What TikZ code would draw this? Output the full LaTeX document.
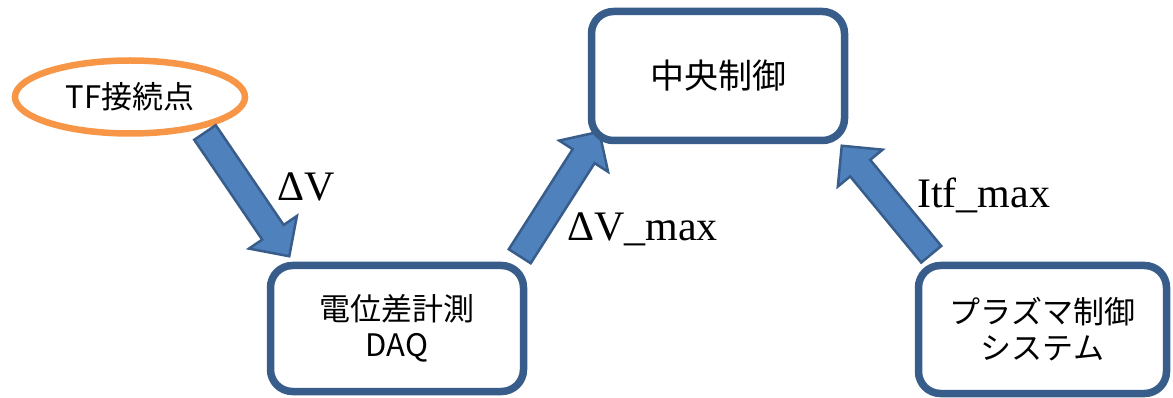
\documentclass[tikz,border=0pt]{standalone}
\usepackage{fontspec}
\setmainfont{Liberation Serif}
\newfontfamily\jp{Noto Sans CJK JP}
\usetikzlibrary{shapes.geometric,calc,backgrounds}
\definecolor{boxblue}{HTML}{385D8A}
\definecolor{arrfill}{HTML}{4F81BD}
\definecolor{orng}{HTML}{F79646}
\newcommand\blockarrow[3]{%
  \coordinate (#1b) at ($(#3)!29pt!(#2)$);
  \draw[barrow] ($(#2)!13pt!90:(#3)$) -- ($(#1b)!13pt!90:(#3)$)
    -- ($(#1b)!29pt!90:(#3)$) -- (#3) -- ($(#1b)!29pt!-90:(#3)$)
    -- ($(#1b)!13pt!-90:(#3)$) -- ($(#2)!13pt!-90:(#3)$) -- cycle;}
\begin{document}
\begin{tikzpicture}[x=1pt,y=-1pt,
  box/.style={draw=boxblue, line width=7.5pt, rounded corners=22pt, fill=white,
    inner sep=0pt, align=center, font=\jp\fontsize{31}{36}\selectfont},
  oval/.style={ellipse, draw=orng, line width=6.5pt, fill=white, inner sep=0pt,
    font=\jp\fontsize{31}{36}\selectfont},
  barrow/.style={draw=boxblue, fill=arrfill, line width=2.5pt, line join=miter},
  lbl/.style={font=\fontsize{42}{50}\selectfont, inner sep=0pt, anchor=base west}]
\useasboundingbox (0,0) rectangle (1173,398);
\node[box, minimum width=253pt, minimum height=126pt] (daq) at (397,328.5) {電位差計測\\DAQ};
\node[box, minimum width=253pt, minimum height=129pt, font=\jp\fontsize{34}{40}\selectfont] (ctrl) at (718,76) {中央制御};
\node[box, minimum width=248pt, minimum height=128pt] (plasma) at (1042.5,329.5) {プラズマ制御\\システム};
\begin{pgfonlayer}{background}
\node[oval, minimum width=230pt, minimum height=73pt] (tf) at (130,97) {TF接続点};
\coordinate (t1) at ($(tf.center)+(75,35.5)$);
\coordinate (h1) at ($(daq.north west)+(22.5,-5.5)$);
\coordinate (t2) at ($(daq.north east)+(-7.5,-5.5)$);
\coordinate (h2) at ($(ctrl.south west)+(11.5,-12.5)$);
\coordinate (t3) at ($(plasma.north west)+(16.5,-7.5)$);
\coordinate (h3) at ($(ctrl.south east)+(-6.5,1.5)$);
\blockarrow{a1}{t1}{h1}
\blockarrow{a2}{t2}{h2}
\blockarrow{a3}{t3}{h3}
\end{pgfonlayer}
\node[lbl] (l1) at (277,201) {ΔV};
\node[lbl] (l2) at (567,241) {ΔV\_max};
\node[lbl] (l3) at (917,208) {Itf\_max};
\end{tikzpicture}
\end{document}
